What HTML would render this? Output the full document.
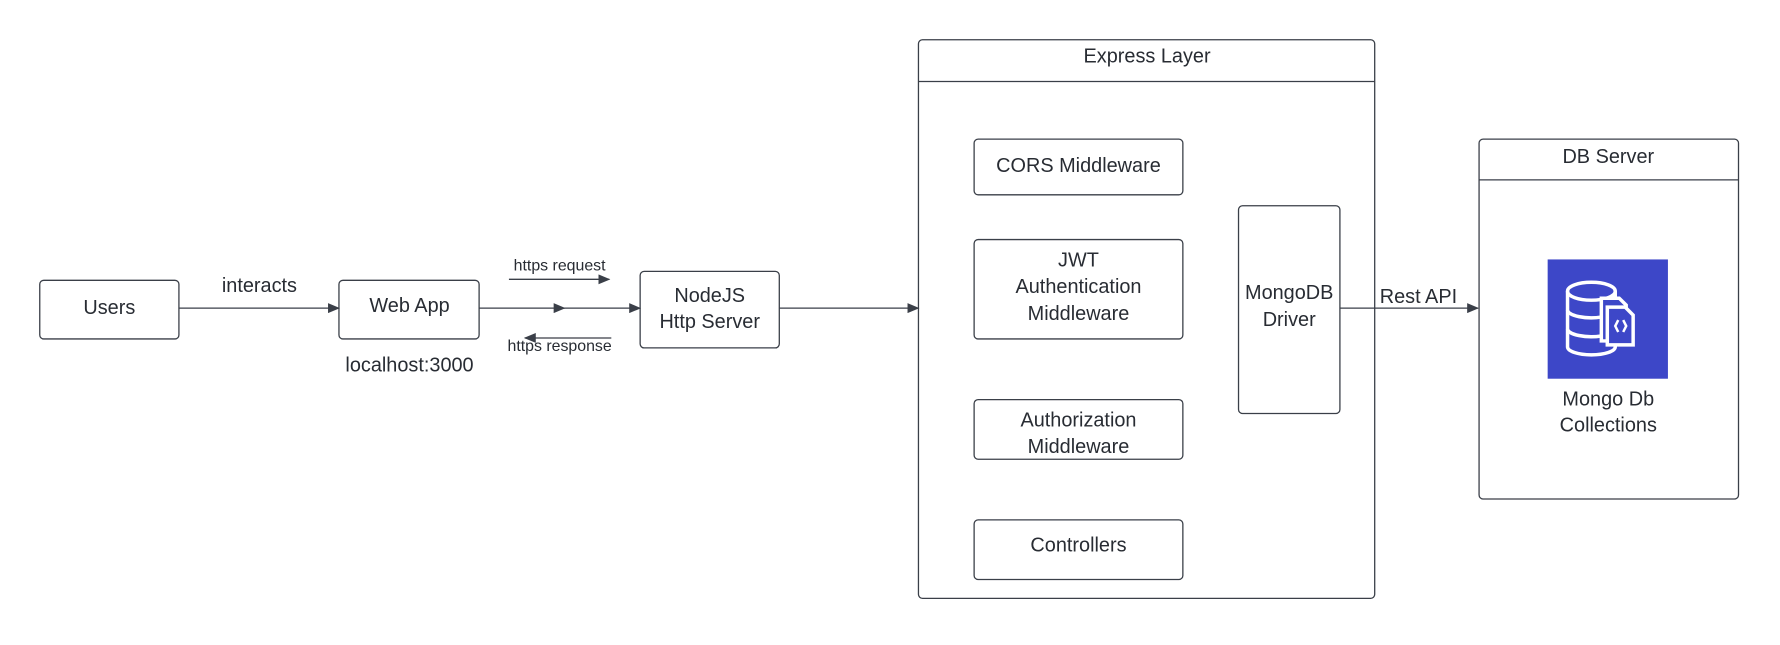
<!DOCTYPE html>
<html><head><meta charset="utf-8"><style>
body{margin:0;width:1780px;height:640px;background:#fff;overflow:hidden}
svg text{font-family:"Liberation Sans",sans-serif;fill:#282c33}
</style></head><body>
<svg width="1780" height="640" viewBox="0 0 1780 640" xmlns="http://www.w3.org/2000/svg">
<defs><marker id="a" markerWidth="12" markerHeight="10" refX="11" refY="5" orient="auto" markerUnits="userSpaceOnUse"><path d="M0,0 L12,5 L0,10 Z" fill="#3a3f48"/></marker></defs>
<g transform="scale(0.994)">
<g fill="none" stroke="#3a3f48" stroke-width="1.3">
<rect x="40" y="282" width="140" height="59" rx="4"/>
<rect x="341" y="282" width="141" height="59" rx="4"/>
<rect x="644" y="273" width="140" height="77" rx="4"/>
<rect x="924" y="40" width="459" height="562" rx="4"/>
<line x1="924" y1="82" x2="1383" y2="82"/>
<rect x="980" y="140" width="210" height="56" rx="4"/>
<rect x="980" y="241" width="210" height="100" rx="4"/>
<rect x="980" y="402" width="210" height="60" rx="4"/>
<rect x="980" y="523" width="210" height="60" rx="4"/>
<rect x="1246" y="207" width="102" height="209" rx="4"/>
<rect x="1488" y="140" width="261" height="362" rx="4"/>
<line x1="1488" y1="181" x2="1749" y2="181"/>
<line x1="180" y1="310" x2="341" y2="310" marker-end="url(#a)"/>
<line x1="482" y1="310" x2="568" y2="310" marker-end="url(#a)"/>
<line x1="566" y1="310" x2="644" y2="310" marker-end="url(#a)"/>
<line x1="512" y1="281" x2="613" y2="281" marker-end="url(#a)"/>
<line x1="615" y1="340" x2="528" y2="340" marker-end="url(#a)"/>
<line x1="784" y1="310" x2="924" y2="310" marker-end="url(#a)"/>
<line x1="1348" y1="310" x2="1487" y2="310" marker-end="url(#a)"/>
</g>
<rect x="1557" y="261" width="121" height="120" fill="#3d47c8"/>
<g fill="none" stroke="#fff" stroke-width="3.5">
<path d="M1577,293 v56 a24,8 0 0 0 48,0 v-56"/>
<ellipse cx="1601" cy="293" rx="24" ry="9"/>
<path d="M1577,312 a24,8 0 0 0 34,7 M1577,331 a24,8 0 0 0 34,7"/>
<path d="M1611,300 h18 l7,7 v36 h-25 z" fill="#3d47c8"/>
<path d="M1617,309 h18 l8,8 v30 h-26 z" fill="#3d47c8"/>
<path d="M1628,322 l-3,6 l3,6 M1633,322 l3,6 l-3,6" stroke-width="2.5"/>
</g>
<g font-size="20" text-anchor="middle">
<text x="110" y="316">Users</text>
<text x="261" y="294">interacts</text>
<text x="412" y="314">Web App</text>
<text x="412" y="374">localhost:3000</text>
<text x="714" y="304">NodeJS</text>
<text x="714" y="330">Http Server</text>
<text x="1154" y="63">Express Layer</text>
<text x="1085" y="173">CORS Middleware</text>
<text x="1085" y="268">JWT</text>
<text x="1085" y="295">Authentication</text>
<text x="1085" y="322">Middleware</text>
<text x="1085" y="429">Authorization</text>
<text x="1085" y="456">Middleware</text>
<text x="1085" y="555">Controllers</text>
<text x="1297" y="301">MongoDB</text>
<text x="1297" y="328">Driver</text>
<text x="1427" y="305">Rest API</text>
<text x="1618" y="164">DB Server</text>
<text x="1618" y="408">Mongo Db</text>
<text x="1618" y="434">Collections</text>
</g>
<g font-size="16" text-anchor="middle">
<text x="563" y="272">https request</text>
<text x="563" y="353">https response</text>
</g>
</g>
</svg>
</body></html>
